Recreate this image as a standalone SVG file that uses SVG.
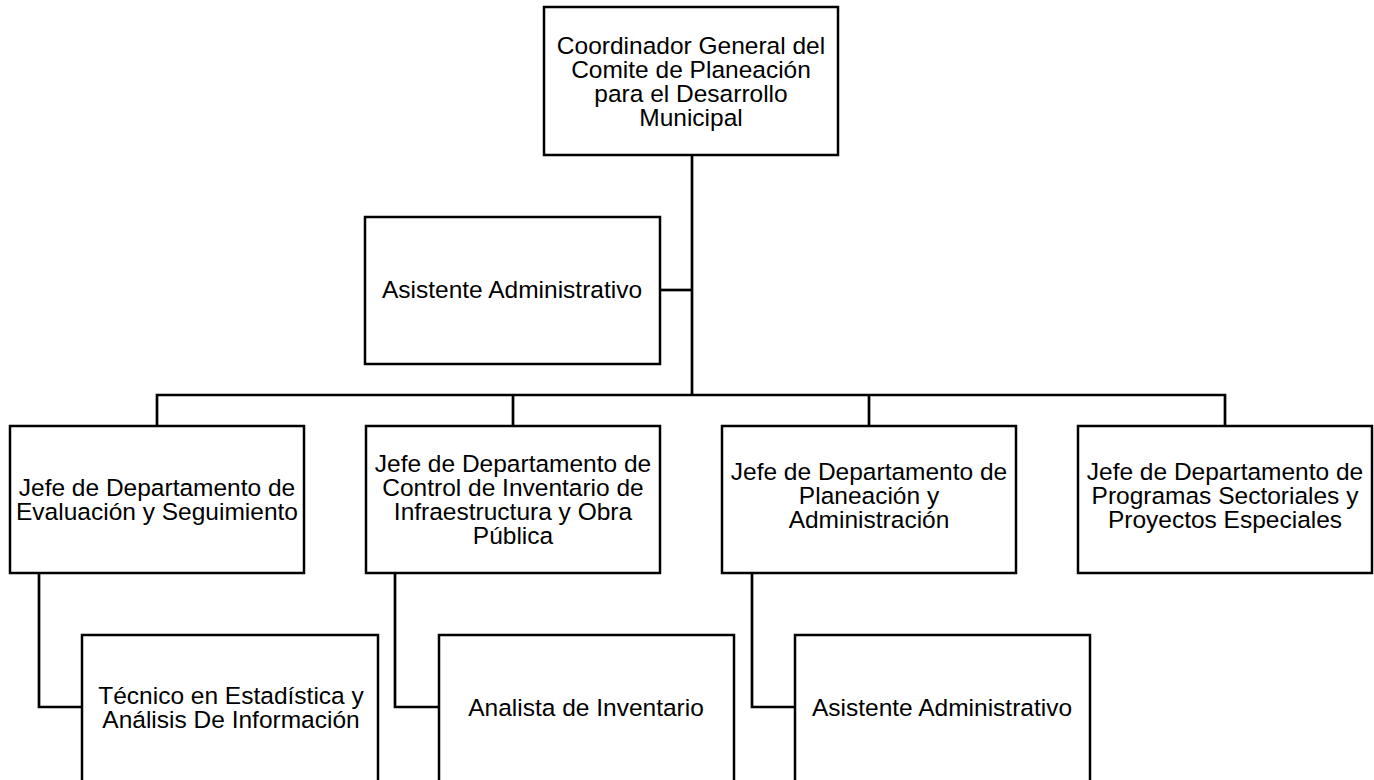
<svg xmlns="http://www.w3.org/2000/svg" width="1374" height="780" viewBox="0 0 1374 780">
<style>
.box{fill:#fff;stroke:#000;stroke-width:2.5}
.lbl{font-family:"Liberation Sans",Arial,sans-serif;font-size:24.5px;fill:#000;text-anchor:middle}
.con{fill:none;stroke:#000;stroke-width:2.7}
</style>
<rect width="1374" height="780" fill="#fff"/>
<g id="connectors">
<path class="con" d="M692 155V395"/>
<path class="con" d="M660 290H692"/>
<path class="con" d="M157 426V395H1225V426"/>
<path class="con" d="M513 395V426"/>
<path class="con" d="M869 395V426"/>
<path class="con" d="M39 573V707H82"/>
<path class="con" d="M395 573V707H439"/>
<path class="con" d="M752 573V707H795"/>
</g>
<g id="n_coord">
<rect class="box" x="544" y="7" width="294" height="148"/>
<text class="lbl"><tspan x="691" y="54">Coordinador General del</tspan><tspan x="691" y="78">Comite  de Planeación</tspan><tspan x="691" y="102">para el Desarrollo</tspan><tspan x="691" y="126">Municipal</tspan></text>
</g>
<g id="n_asist1">
<rect class="box" x="365" y="217" width="295" height="147"/>
<text class="lbl" x="512" y="298">Asistente Administrativo</text>
</g>
<g id="n_jefe1">
<rect class="box" x="10" y="426" width="294" height="147"/>
<text class="lbl"><tspan x="157" y="496">Jefe de Departamento de</tspan><tspan x="157" y="520">Evaluación y Seguimiento</tspan></text>
</g>
<g id="n_jefe2">
<rect class="box" x="366" y="426" width="294" height="147"/>
<text class="lbl"><tspan x="513" y="472">Jefe de Departamento de</tspan><tspan x="513" y="496">Control de Inventario de</tspan><tspan x="513" y="520">Infraestructura y Obra</tspan><tspan x="513" y="544">Pública</tspan></text>
</g>
<g id="n_jefe3">
<rect class="box" x="722" y="426" width="294" height="147"/>
<text class="lbl"><tspan x="869" y="480">Jefe de Departamento de</tspan><tspan x="869" y="504">Planeación y</tspan><tspan x="869" y="528">Administración</tspan></text>
</g>
<g id="n_jefe4">
<rect class="box" x="1078" y="426" width="294" height="147"/>
<text class="lbl"><tspan x="1225" y="480">Jefe de Departamento de</tspan><tspan x="1225" y="504">Programas Sectoriales y</tspan><tspan x="1225" y="528">Proyectos Especiales</tspan></text>
</g>
<g id="n_tecnico">
<rect class="box" x="82" y="635" width="296" height="150"/>
<text class="lbl"><tspan x="231" y="704">Técnico en Estadística y</tspan><tspan x="231" y="728">Análisis De Información</tspan></text>
</g>
<g id="n_analista">
<rect class="box" x="439" y="635" width="295" height="150"/>
<text class="lbl" x="586" y="716">Analista de Inventario</text>
</g>
<g id="n_asist2">
<rect class="box" x="795" y="635" width="295" height="150"/>
<text class="lbl" x="942" y="716">Asistente Administrativo</text>
</g>
</svg>
